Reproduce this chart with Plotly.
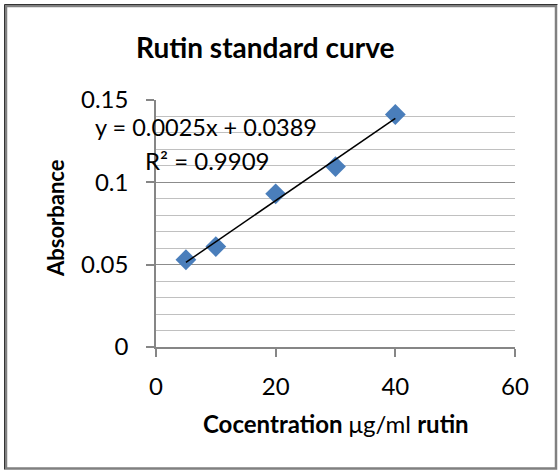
import plotly.graph_objects as go

# Data
concentration = [5, 10, 20, 30, 40]
absorbance = [0.053, 0.061, 0.093, 0.1096, 0.1412]
slope = 0.0025
intercept = 0.0389
r_squared = 0.9909
x_ticks = [0, 20, 40, 60]
y_ticks = [0, 0.05, 0.1, 0.15]
y_tick_labels = ["0", "0.05", "0.1", "0.15"]

W, H = 558, 475
L, R, T, B = 156, 515, 100, 347

def px(x):
    return (x - L) / (R - L)

def py(y):
    return (B - y) / (B - T)

FONT = "Lato, Calibri, Carlito, sans-serif"

fit_x = [min(concentration), max(concentration)]
fit_y = [slope * x + intercept for x in fit_x]

fig = go.Figure()
fig.add_trace(go.Scatter(
    x=concentration, y=absorbance, mode="markers",
    marker=dict(symbol="diamond", size=16, color="#4a7ebb",
                line=dict(color="#4a7ebb", width=0)),
    showlegend=False,
))
fig.add_trace(go.Scatter(
    x=fit_x, y=fit_y, mode="lines",
    line=dict(color="black", width=1.5), showlegend=False,
))

fig.update_layout(
    width=W, height=H,
    margin=dict(l=L, r=W - R, t=T, b=H - B),
    paper_bgcolor="white", plot_bgcolor="white",
    font=dict(family=FONT, size=24, color="black"),
    xaxis=dict(
        range=[0, 60], tickvals=x_ticks, ticks="outside", ticklen=8,
        tickcolor="#868686", tickwidth=1.5,
        showline=True, linecolor="#868686", linewidth=1.5,
        showgrid=False, zeroline=False, ticklabelstandoff=9,
        tickfont=dict(size=24),
    ),
    yaxis=dict(
        range=[0, 0.15], tickvals=y_ticks, ticktext=y_tick_labels,
        ticks="outside", ticklen=8, tickcolor="#868686", tickwidth=1.5,
        showline=True, linecolor="#868686", linewidth=1.5,
        showgrid=True, gridcolor="#8c8c8c", gridwidth=1.3,
        zeroline=False, ticklabelstandoff=13,
        minor=dict(dtick=0.01, showgrid=True, gridcolor="#c0c0c0", gridwidth=1),
        tickfont=dict(size=24),
    ),
    shapes=[
        dict(type="rect", xref="paper", yref="paper",
             x0=px(6), x1=px(556), y0=py(468.5), y1=py(6),
             line=dict(color="#808080", width=2.5)),
        dict(type="line", xref="paper", yref="paper",
             x0=px(4.5), x1=px(4.5), y0=py(469.5), y1=py(4.5),
             line=dict(color="#333333", width=1)),
        dict(type="line", xref="paper", yref="paper",
             x0=px(4.5), x1=px(557.5), y0=py(4.5), y1=py(4.5),
             line=dict(color="#333333", width=1)),
    ],
    annotations=[
        dict(text="<b>Rutin standard curve</b>", xref="paper", yref="paper",
             x=px(265), y=py(47), showarrow=False, font=dict(size=28),
             xanchor="center", yanchor="middle"),
        dict(text="<b>Cocentration</b> μg/ml <b>rutin</b>", xref="paper", yref="paper",
             x=px(336), y=py(423), showarrow=False, font=dict(size=24),
             xanchor="center", yanchor="middle"),
        dict(text="<b>Absorbance</b>", xref="paper", yref="paper",
             x=px(55), y=py(218), showarrow=False, font=dict(size=22),
             textangle=-90, xanchor="center", yanchor="middle"),
        dict(text=f"y = {slope:.4f}x + {intercept:.4f}", xref="paper", yref="paper",
             x=px(93), y=py(127), showarrow=False, font=dict(size=23.5),
             xanchor="left", yanchor="middle"),
        dict(text=f"R² = {r_squared:.4f}", xref="paper", yref="paper",
             x=px(143), y=py(160), showarrow=False, font=dict(size=24),
             xanchor="left", yanchor="middle"),
    ],
)

fig.write_html("out.html", config={"displayModeBar": False},
               post_script="document.body.style.margin='0';")
